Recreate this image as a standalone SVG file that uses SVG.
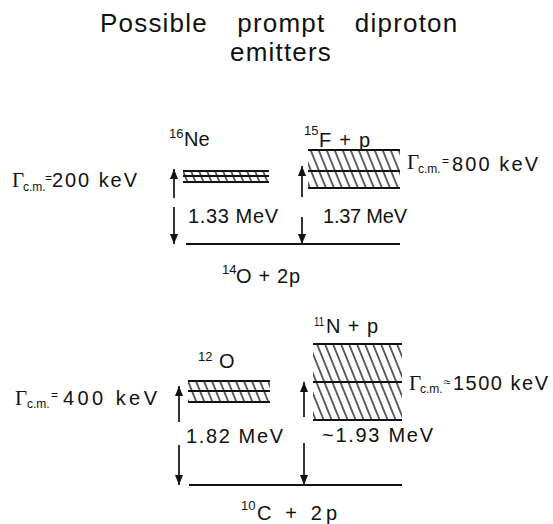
<svg xmlns="http://www.w3.org/2000/svg" width="553" height="524" viewBox="0 0 553 524">
<style>
text{font-family:"Liberation Sans",Arial,sans-serif;fill:#111}
.t{font-size:26px;letter-spacing:1.2px}
.l{font-size:20px}
.sup{font-size:13px}
.sub{font-size:12px}
.eq{font-size:12px}
.g{font-family:"Liberation Serif","Times New Roman",serif;font-size:21px}
.lvl{stroke:#111;stroke-width:2;fill:none}
.arr{stroke:#111;stroke-width:1.7;fill:none;marker-end:url(#ah)}
</style>
<defs>
<marker id="ah" markerUnits="userSpaceOnUse" markerWidth="10" markerHeight="8" refX="10" refY="4" orient="auto">
<path d="M0,0 L10,4 L0,8 z" fill="#111"/>
</marker>
<pattern id="hatch" patternUnits="userSpaceOnUse" width="8" height="60" patternTransform="skewX(22)">
<line x1="2" y1="0" x2="2" y2="60" stroke="#111" stroke-width="1.4"/>
</pattern>
</defs>
<rect width="553" height="524" fill="#fff"/>

<g id="title">
<text class="t" x="100" y="32" word-spacing="21">Possible prompt diproton</text>
<text class="t" x="230" y="61">emitters</text>
</g>

<g id="ne16">
<text x="169" y="138"><tspan class="sup">16</tspan><tspan class="l" x="184" y="146">Ne</tspan></text>
<rect x="183" y="171" width="86" height="11" fill="url(#hatch)"/>
<path class="lvl" d="M183,171H269M183,176H269M183,182H269"/>
<text x="12" y="187"><tspan class="g">Γ</tspan><tspan class="sub" x="23" y="191">c.m.</tspan><tspan class="eq" x="45" y="182">=</tspan><tspan class="l" x="52" y="187" textLength="85" lengthAdjust="spacing">200 keV</tspan></text>
<text class="l" x="188" y="223" textLength="90" lengthAdjust="spacing">1.33 MeV</text>
</g>

<g id="f15">
<text x="304" y="135"><tspan class="sup">15</tspan><tspan class="l" x="319" y="147" textLength="51" lengthAdjust="spacing">F + p</tspan></text>
<rect x="308" y="150" width="92" height="38" fill="url(#hatch)"/>
<path class="lvl" d="M308,150H400M308,171H400M308,188H400"/>
<text x="407" y="169"><tspan class="g">Γ</tspan><tspan class="sub" x="418" y="173">c.m.</tspan><tspan class="eq" x="442" y="165">=</tspan><tspan class="l" x="452" y="171" textLength="86" lengthAdjust="spacing">800 keV</tspan></text>
<text class="l" x="323" y="223" textLength="84" lengthAdjust="spacing">1.37 MeV</text>
</g>

<g id="o14">
<path class="lvl" d="M186,244H400"/>
<text x="222" y="274"><tspan class="sup">14</tspan><tspan class="l" x="236" y="283" textLength="64" lengthAdjust="spacing">O + 2p</tspan></text>
</g>

<g id="o12">
<text x="198" y="361"><tspan class="sup">12</tspan><tspan class="l" x="219" y="368">O</tspan></text>
<rect x="188" y="381" width="82" height="21" fill="url(#hatch)"/>
<path class="lvl" d="M188,381H270M188,391H270M188,402H270"/>
<text x="15" y="405"><tspan class="g">Γ</tspan><tspan class="sub" x="27" y="408">c.m.</tspan><tspan class="eq" x="51" y="399">=</tspan><tspan class="l" x="63" y="405" textLength="94" lengthAdjust="spacing">400 keV</tspan></text>
<text class="l" x="186" y="443" textLength="97" lengthAdjust="spacing">1.82 MeV</text>
</g>

<g id="n11">
<text x="314" y="326"><tspan class="sup" textLength="10" lengthAdjust="spacingAndGlyphs">11</tspan><tspan class="l" x="326" y="333" textLength="52" lengthAdjust="spacing">N + p</tspan></text>
<rect x="313" y="344" width="89" height="76" fill="url(#hatch)"/>
<path class="lvl" d="M313,344H402M313,382H402M313,420H402"/>
<text x="409" y="390"><tspan class="g">Γ</tspan><tspan class="sub" x="420" y="393">c.m.</tspan><tspan class="eq" x="444" y="386">≈</tspan><tspan class="l" x="453" y="390" textLength="95" lengthAdjust="spacing">1500 keV</tspan></text>
<text class="l" x="322" y="442" textLength="111" lengthAdjust="spacing">~1.93 MeV</text>
</g>

<g id="c10">
<path class="lvl" d="M189,485H402"/>
<text x="241" y="510"><tspan class="sup">10</tspan><tspan class="l" x="257" y="520" textLength="80" lengthAdjust="spacing">C + 2p</tspan></text>
</g>

<g id="connectors">
<path class="arr" d="M174,198V169"/>
<path class="arr" d="M174,207V244"/>
<path class="arr" d="M302,197V166"/>
<path class="arr" d="M302,217V244"/>
<path class="arr" d="M179,422V386"/>
<path class="arr" d="M179,445V485"/>
<path class="arr" d="M304,417V382"/>
<path class="arr" d="M304,443V485"/>
</g>
</svg>
